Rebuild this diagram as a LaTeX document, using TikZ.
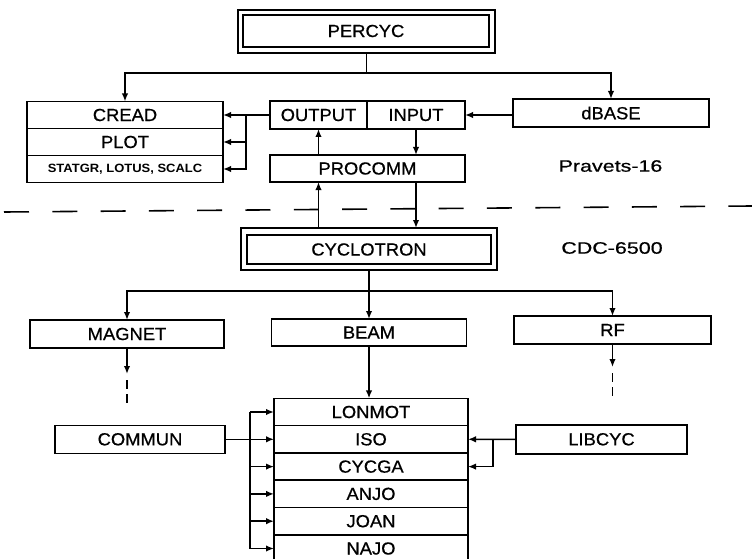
\documentclass[tikz,border=0pt]{standalone}
\usepackage{fontspec}
\setmainfont{Liberation Sans}
\newfontfamily\boxfont{Liberation Sans}[FakeStretch=1.05,FakeBold=0.6]
\newfontfamily\smallfont{Liberation Sans Bold}[FakeStretch=1.08]
\newfontfamily\lblfont{Liberation Sans}[FakeStretch=1.3,FakeBold=0.6]
\usetikzlibrary{arrows.meta}
\begin{document}
\begin{tikzpicture}[x=1pt,y=-1pt,
  ln/.style={line width=1.6pt},
  arr/.style={ln,-{Latex[length=8pt,width=6.5pt]}},
  bx/.style={draw,line width=1.6pt,inner sep=0pt,outer sep=0pt,minimum height=27pt,
    font=\boxfont\fontsize{17.5}{20}\selectfont},
  smallbx/.style={bx,font=\smallfont\fontsize{12}{14}\selectfont},
  lbl/.style={inner sep=0pt,font=\lblfont\fontsize{16.5}{19}\selectfont},
  dsh/.style={ln,dash pattern=on 9pt off 5pt}
]
\useasboundingbox (0,0) rectangle (752,559);
\clip (0,0) rectangle (752,559);

% ---- top part (Pravets-16)
\node[bx,minimum width=257pt,minimum height=43pt] (percycO) at (366.5,31.5) {};
\node[bx,minimum width=246pt,minimum height=32pt] (percyc) at (366,31) {PERCYC};

\node[bx,minimum width=196pt] (cread) at (125,115) {CREAD};
\node[bx,minimum width=196pt,anchor=north] (plot) at (cread.south) {PLOT};
\node[smallbx,minimum width=196pt,anchor=north] (statgr) at (plot.south) {STATGR, LOTUS, SCALC};

\node[bx,minimum width=97pt,minimum height=28pt] (output) at (318.5,115) {OUTPUT};
\node[bx,minimum width=98pt,minimum height=28pt,anchor=west] (input) at (output.east) {INPUT};
\node[bx,minimum width=195pt] (procomm) at (367.5,168.5) {PROCOMM};
\node[bx,minimum width=196pt,minimum height=28pt] (dbase) at (611,113) {dBASE};

\node[lbl] (pravets) at (610.5,166) {Pravets-16};

\coordinate (j1) at (366.5,73);
\draw[ln] (percycO.south) -- (j1);
\draw[arr] (j1) -| (cread.north);
\draw[arr] (j1) -| (dbase.north);

\coordinate (b1) at (246,115);
\draw[ln] (output.west) -- (b1);
\draw[arr] (b1) -- (cread.east);
\draw[arr] (b1 |- plot.east) -- (plot.east);
\draw[arr] (b1) |- (statgr.east);

\draw[arr] (dbase.west |- input.east) -- (input.east);
\draw[arr] (output |- procomm.north) -- (output.south);
\draw[arr] (input.south) -- (input |- procomm.north);

% ---- separator
\coordinate (dl) at (4,212);
\coordinate (dr) at (752,206);
\draw[ln,dash pattern=on 25pt off 23.3pt] (dl) -- (dr);

% ---- bottom part (CDC-6500)
\node[bx,minimum width=256pt,minimum height=42pt] (cycO) at (369,249) {};
\node[bx,minimum width=244pt,minimum height=29pt] (cyclotron) at (369,249.5) {CYCLOTRON};
\node[lbl] (cdc) at (612,248) {CDC-6500};

\draw[arr] (output |- cycO.north) -- (output |- procomm.south);
\draw[arr] (input |- procomm.south) -- (input |- cycO.north);

\node[bx,minimum width=194pt,minimum height=28pt] (magnet) at (127,334) {MAGNET};
\node[bx,minimum width=195pt] (beam) at (369,332.5) {BEAM};
\node[bx,minimum width=197pt,minimum height=28pt] (rf) at (612.5,330) {RF};

\coordinate (j2) at (369,291);
\draw[ln] (cycO.south) -- (j2);
\draw[arr] (j2) -| (magnet.north);
\draw[arr] (j2) -| (rf.north);
\draw[arr] (j2) -- (beam.north);

\coordinate (m1) at (127,374);
\coordinate (m1d) at (127,380);
\coordinate (m2) at (127,403);
\draw[arr] (magnet.south) -- (m1);
\draw[dsh] (m1d) -- (m2);
\coordinate (r1) at (612.5,367);
\coordinate (r1d) at (612.5,373);
\coordinate (r2) at (612.5,398);
\draw[arr] (rf.south) -- (r1);
\draw[dsh] (r1d) -- (r2);

\node[bx,minimum width=194pt,minimum height=27.3pt] (lonmot) at (371,412) {LONMOT};
\node[bx,minimum width=194pt,minimum height=27.3pt,anchor=north] (iso) at (lonmot.south) {ISO};
\node[bx,minimum width=194pt,minimum height=27.3pt,anchor=north] (cycga) at (iso.south) {CYCGA};
\node[bx,minimum width=194pt,minimum height=27.3pt,anchor=north] (anjo) at (cycga.south) {ANJO};
\node[bx,minimum width=194pt,minimum height=27.3pt,anchor=north] (joan) at (anjo.south) {JOAN};
\node[bx,minimum width=194pt,minimum height=27.3pt,anchor=north] (najo) at (joan.south) {NAJO};

\draw[arr] (beam.south) -- (beam.south |- lonmot.north);

\node[bx,minimum width=170pt,minimum height=28pt] (commun) at (140,439.3) {COMMUN};
\node[bx,minimum width=171pt,minimum height=29pt] (libcyc) at (601.5,439.3) {LIBCYC};

\coordinate (lb) at (250,0);
\coordinate (rb) at (493,0);
\draw[ln] (commun.east) -- (commun.east -| lb);
\draw[ln] (lonmot.west -| lb) -- (najo.west -| lb);
\foreach \n in {lonmot,iso,cycga,anjo,joan,najo}
  \draw[arr] (\n.west -| lb) -- (\n.west);

\draw[arr] (libcyc.west) -- (iso.east);
\draw[arr] (iso.east -| rb) |- (cycga.east);
\end{tikzpicture}
\end{document}
